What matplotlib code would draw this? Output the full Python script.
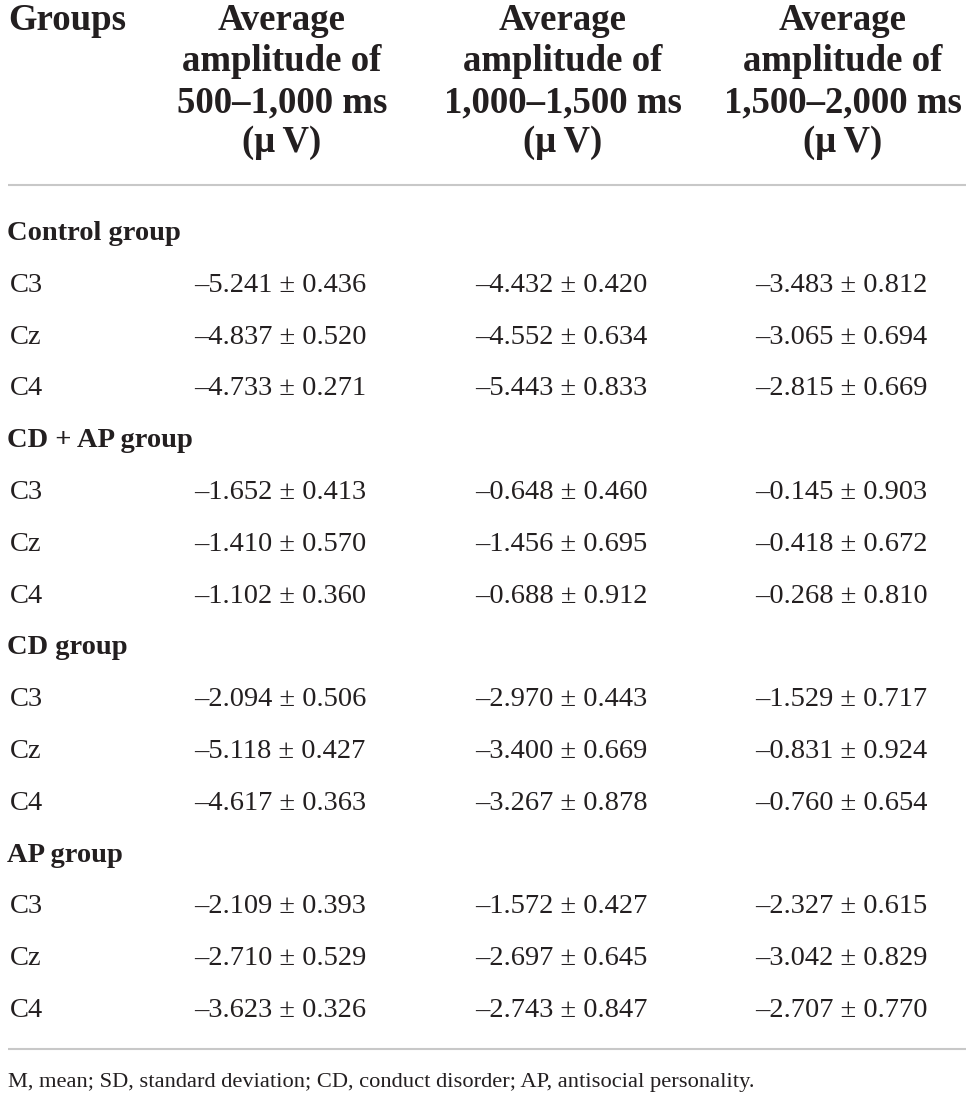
import matplotlib
matplotlib.use("Agg")
import matplotlib.pyplot as plt

# ---- data ----
groups = ["Control group", "CD + AP group", "CD group", "AP group"]
electrodes = ["C3", "Cz", "C4"]
col_headers = [
    ["Average", "amplitude of", "500–1,000 ms", "(μ\u2009V)"],
    ["Average", "amplitude of", "1,000–1,500 ms", "(μ\u2009V)"],
    ["Average", "amplitude of", "1,500–2,000 ms", "(μ\u2009V)"],
]
mean_500_1000 = [-5.241, -4.837, -4.733, -1.652, -1.410, -1.102,
                 -2.094, -5.118, -4.617, -2.109, -2.710, -3.623]
sd_500_1000 = [0.436, 0.520, 0.271, 0.413, 0.570, 0.360,
               0.506, 0.427, 0.363, 0.393, 0.529, 0.326]
mean_1000_1500 = [-4.432, -4.552, -5.443, -0.648, -1.456, -0.688,
                  -2.970, -3.400, -3.267, -1.572, -2.697, -2.743]
sd_1000_1500 = [0.420, 0.634, 0.833, 0.460, 0.695, 0.912,
                0.443, 0.669, 0.878, 0.427, 0.645, 0.847]
mean_1500_2000 = [-3.483, -3.065, -2.815, -0.145, -0.418, -0.268,
                  -1.529, -0.831, -0.760, -2.327, -3.042, -2.707]
sd_1500_2000 = [0.812, 0.694, 0.669, 0.903, 0.672, 0.810,
                0.717, 0.924, 0.654, 0.615, 0.829, 0.770]
footnote = "M, mean; SD, standard deviation; CD, conduct disorder; AP, antisocial personality."

W, H = 972, 1102
fig = plt.figure(figsize=(W / 100, H / 100), dpi=100)
ax = fig.add_axes([0, 0, 1, 1])
ax.set_xlim(0, W)
ax.set_ylim(H, 0)
ax.axis("off")

FONT = "Liberation Serif"
TC = "#231f20"
LC = "#c8c8c8"

# header
hdr_base = [30, 71, 112, 152]
HFS = 26.5
ax.text(8, hdr_base[0], "Groups", fontsize=HFS, fontweight="bold", family=FONT,
        color=TC, va="baseline", ha="left")
col_x = [282, 563, 843]
for cx, lines in zip(col_x, col_headers):
    for yb, s in zip(hdr_base, lines):
        ax.text(cx, yb, s, fontsize=HFS, fontweight="bold", family=FONT,
                color=TC, va="baseline", ha="center")

ax.plot([8, 966], [185, 185], color=LC, lw=1.5, solid_capstyle="butt")

# body
val_x = [280, 561, 841]
cols = [(mean_500_1000, sd_500_1000), (mean_1000_1500, sd_1000_1500),
        (mean_1500_2000, sd_1500_2000)]

def fmt(m, s):
    return ("–" if m < 0 else "") + f"{abs(m):.3f} ± {s:.3f}"

VFS = 20.5
GFS = 20.5
row0 = 231
step = 51.8
r = 0
k = 0
for g in groups:
    y = row0 + r * step
    ax.text(7, y + 9, g, fontsize=GFS, fontweight="bold", family=FONT,
            color=TC, va="baseline", ha="left")
    r += 1
    for e in electrodes:
        y = row0 + r * step
        ax.text(10, y + 9, e, fontsize=VFS, family=FONT, color=TC,
                va="baseline", ha="left")
        for vx, (ms, ss) in zip(val_x, cols):
            ax.text(vx, y + 9, fmt(ms[k], ss[k]), fontsize=VFS, family=FONT,
                    color=TC, va="baseline", ha="center")
        r += 1
        k += 1

ax.plot([8, 966], [1049, 1049], color=LC, lw=1.5, solid_capstyle="butt")
ax.text(8, 1087, footnote, fontsize=16.2, family=FONT, color=TC,
        va="baseline", ha="left")

fig.savefig("out.png", dpi=100, facecolor="white")
